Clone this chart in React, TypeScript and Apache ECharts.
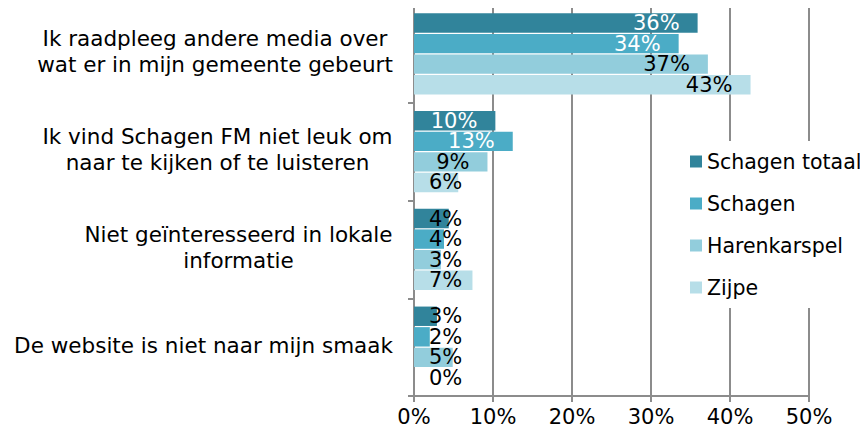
import React, { useEffect, useRef } from "react";
import * as echarts from "echarts";

const categories = [
  "Ik raadpleeg andere media over\nwat er in mijn gemeente gebeurt",
  "Ik vind Schagen FM niet leuk om\nnaar te kijken of te luisteren",
  "Niet geïnteresseerd in lokale\ninformatie",
  "De website is niet naar mijn smaak",
];
const seriesNames = ["Schagen totaal", "Schagen", "Harenkarspel", "Zijpe"];
const schagenTotaal = [35.9, 10.3, 4.4, 2.9];
const schagen = [33.5, 12.5, 3.8, 2.0];
const harenkarspel = [37.2, 9.3, 3.4, 4.9];
const zijpe = [42.6, 5.6, 7.4, 0];
const colors = ["#31849B", "#4BACC6", "#92CDDC", "#B7DEE8"];
const xTicks = [0, 10, 20, 30, 40, 50];

const FONT = "DejaVu Sans";
const FS = 21;
const CAT_FS = 21.5;
const PX_PER_PCT = 7.9;

function labelWidth(t: string) {
  let w = 0;
  for (const c of t) w += c === "%" ? 0.95 : 0.636;
  return w * FS;
}

export default function App() {
  const ref = useRef<HTMLDivElement>(null);
  useEffect(() => {
    if (!ref.current) return;
    const canvas = document.createElement("canvas");
    const ctx = canvas.getContext("2d")!;
    ctx.font = `${CAT_FS}px "${FONT}"`;
    const rich: Record<string, any> = {};
    categories.forEach((c, i) => {
      const w = Math.max(...c.split("\n").map((l) => ctx.measureText(l).width));
      rich["r" + i] = {
        width: Math.ceil(w),
        align: "center",
        fontFamily: FONT,
        fontSize: CAT_FS,
        color: "#000",
        lineHeight: 26,
      };
    });
    const chart = echarts.init(ref.current, null, { renderer: "svg" });
    const all = [schagenTotaal, schagen, harenkarspel, zijpe];
    const series = all.map((vals, si) => ({
      name: seriesNames[si],
      type: "bar",
      barGap: "6%",
      barCategoryGap: "17%",
      itemStyle: { color: colors[si] },
      data: vals.map((v) => {
        const txt = Math.round(v) + "%";
        const fits = v * PX_PER_PCT - 18 - labelWidth(txt) >= 15;
        return {
          value: v,
          label: {
            show: true,
            position: fits ? "insideRight" : "insideLeft",
            distance: fits ? 18 : 15,
            color: fits && si < 2 ? "#ffffff" : "#000000",
            fontFamily: FONT,
            fontSize: FS,
            lineHeight: 19,
            formatter: () => txt,
          },
        };
      }),
    }));
    chart.setOption({
      animation: false,
      backgroundColor: "#ffffff",
      grid: { left: 414, right: 59, top: 5, bottom: 38, containLabel: false },
      legend: {
        orient: "vertical",
        left: 684,
        top: 141,
        itemWidth: 12,
        itemHeight: 12,
        itemGap: 21,
        icon: "rect",
        backgroundColor: "#ffffff",
        padding: [10, 2, 10, 6],
        data: seriesNames,
        textStyle: { fontFamily: FONT, fontSize: 20.5, color: "#000" },
      },
      xAxis: {
        type: "value",
        min: 0,
        max: 50,
        interval: 10,
        axisLine: { show: true, lineStyle: { color: "#8c8c8c", width: 2 } },
        axisTick: { show: true, length: 6, lineStyle: { color: "#8c8c8c", width: 2 } },
        splitLine: { show: true, lineStyle: { color: "#8c8c8c", width: 2 } },
        axisLabel: {
          fontFamily: FONT,
          fontSize: FS,
          color: "#000",
          margin: 10,
          formatter: (v: number) => (xTicks.includes(v) ? v + "%" : ""),
        },
      },
      yAxis: {
        type: "category",
        inverse: true,
        data: categories,
        axisLine: { show: true, lineStyle: { color: "#8c8c8c", width: 2 } },
        axisTick: { show: true, length: 6, lineStyle: { color: "#8c8c8c", width: 2 } },
        axisLabel: {
          fontFamily: FONT,
          fontSize: CAT_FS,
          color: "#000",
          margin: 21,
          lineHeight: 26,
          align: "right",
          padding: [0, 0, 4, 0],
          formatter: (v: string, idx: number) =>
            v
              .split("\n")
              .map((l) => `{r${idx}|${l}}`)
              .join("\n"),
          rich,
        },
      },
      series,
    });
    return () => chart.dispose();
  }, []);
  return <div ref={ref} style={{ width: 868, height: 434, margin: -8 }} />;
}
